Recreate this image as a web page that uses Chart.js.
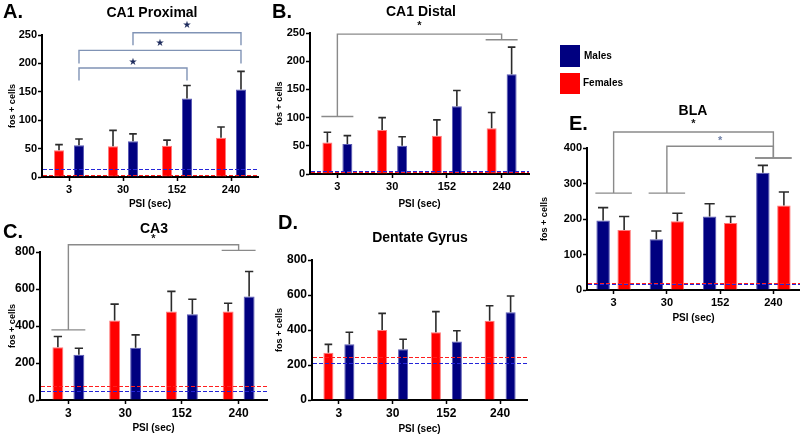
<!DOCTYPE html>
<html><head><meta charset="utf-8">
<script src="https://cdn.jsdelivr.net/npm/chart.js@4/dist/chart.umd.min.js"></script>
<style>
html,body{margin:0;padding:0;background:#fff;overflow:hidden;width:800px;height:434px;position:relative;}
canvas{position:absolute;}
.t{position:absolute;font-family:'Liberation Sans',Arial,sans-serif;font-weight:bold;color:#000;white-space:nowrap;z-index:5;}
.c{transform:translateX(-50%);}
.sq{position:absolute;z-index:5;}
</style></head><body>
<canvas id="cA" width="268" height="215" style="left:0px;top:0px"></canvas>
<canvas id="cB" width="275" height="215" style="left:262px;top:0px"></canvas>
<canvas id="cC" width="272" height="219" style="left:0px;top:215px"></canvas>
<canvas id="cD" width="275" height="220" style="left:262px;top:215px"></canvas>
<canvas id="cE" width="262" height="235" style="left:538px;top:95px"></canvas>

<div class="t" style="left:3px;top:1px;font-size:20px;line-height:20px">A.</div>
<div class="t c" style="left:152px;top:5px;font-size:14px;line-height:14px">CA1 Proximal</div>
<div class="t" style="left:272px;top:1px;font-size:20px;line-height:20px">B.</div>
<div class="t c" style="left:421px;top:4px;font-size:14px;line-height:14px">CA1 Distal</div>
<div class="t" style="left:3px;top:221px;font-size:20px;line-height:20px">C.</div>
<div class="t c" style="left:154px;top:221px;font-size:14px;line-height:14px">CA3</div>
<div class="t" style="left:278px;top:212px;font-size:20px;line-height:20px">D.</div>
<div class="t c" style="left:420px;top:230px;font-size:14px;line-height:14px">Dentate Gyrus</div>
<div class="t" style="left:569px;top:113px;font-size:20px;line-height:20px">E.</div>
<div class="t c" style="left:693px;top:103px;font-size:14px;line-height:14px">BLA</div>

<div class="sq" style="left:560px;top:45px;width:20px;height:22px;background:#000080"></div>
<div class="t" style="left:584px;top:51px;font-size:10px;line-height:10px">Males</div>
<div class="sq" style="left:560px;top:73px;width:20px;height:21px;background:#FF0000"></div>
<div class="t" style="left:583px;top:78px;font-size:10px;line-height:10px">Females</div>

<script>
// ---------- DATA ----------
const categories = ['3', '30', '152', '240'];

// A. CA1 Proximal
const ca1ProxFemales    = [47, 54, 55, 69];
const ca1ProxFemalesErr = [10, 28, 10, 19];
const ca1ProxMales      = [56, 63, 138, 154];
const ca1ProxMalesErr   = [11, 13, 23, 32];
const ca1ProxControls   = [4, 14];            // [females, males]
const ca1ProxBrackets   = [                   // [groupA, seriesA, groupB, seriesB, yA, yB, yTop, yStar]
  [0, 1, 2, 1, 170, 170, 192, 202],
  [0, 1, 3, 1, 200, 200, 223, 236],
  [1, 1, 3, 1, 232, 232, 254, 267]
];

// B. CA1 Distal
const ca1DistFemales    = [56, 78, 68, 81];
const ca1DistFemalesErr = [18, 22, 28, 28];
const ca1DistMales      = [53, 50, 120, 177];
const ca1DistMalesErr   = [15, 16, 28, 48];
const ca1DistControls   = [3, 6];
const ca1DistBrackets   = [[0, -1, 3, -1, 102, 238, 248, 263]];

// C. CA3
const ca3Females    = [285, 430, 478, 478];
const ca3FemalesErr = [58, 88, 109, 45];
const ca3Males      = [244, 283, 464, 560];
const ca3MalesErr   = [36, 69, 81, 135];
const ca3Controls   = [74, 51];
const ca3Brackets   = [[0, -1, 3, -1, 379, 809, 839, 870]];

// D. Dentate Gyrus
const dgFemales    = [270, 400, 387, 453];
const dgFemalesErr = [48, 95, 118, 86];
const dgMales      = [318, 290, 335, 501];
const dgMalesErr   = [69, 57, 61, 93];
const dgControls   = [244, 213];
const dgBrackets   = [];

// E. BLA
const blaMales      = [196, 143, 207, 330];
const blaMalesErr   = [36, 23, 36, 21];
const blaFemales    = [169, 194, 189, 238];
const blaFemalesErr = [38, 22, 18, 38];
const blaControls   = [20, 16];
const blaBrackets   = [
  [0, -1, 3, -1, 273, 372, 445, 468],
  [1, -1, 3, -1, 273, 372, 405, 420]
];

// ---------- STYLE ----------
const FONT = "'Liberation Sans', Arial, sans-serif";
const RED = '#FF0000', NAVY = '#000080';
const RED_EDGE = '#ff7a7a', NAVY_EDGE = '#5a5ab4';
const RED_LINE = 'rgb(255,30,30)', BLUE_LINE = 'rgb(36,36,216)';

// ---------- PLUGINS (per chart, via closures) ----------
const errorBarPlugin = {
  id: 'errbars',
  afterDatasetsDraw(chart) {
    const ctx = chart.ctx, ys = chart.scales.y;
    chart.data.datasets.forEach((ds, di) => {
      const meta = chart.getDatasetMeta(di);
      meta.data.forEach((bar, i) => {
        const top = ys.getPixelForValue(ds.data[i] + ds.err[i]);
        const hw = bar.width * 0.38;
        ctx.save();
        ctx.strokeStyle = '#2b2b2b';
        ctx.lineWidth = 1.6;
        ctx.beginPath();
        ctx.moveTo(bar.x, bar.y);
        ctx.lineTo(bar.x, top);
        ctx.moveTo(bar.x - hw, top);
        ctx.lineTo(bar.x + hw, top);
        ctx.stroke();
        ctx.restore();
      });
    });
  }
};

function makeBaselinePlugin(values, colors) {
  return {
    id: 'baselines',
    afterDatasetsDraw(chart) {
      const ctx = chart.ctx, ys = chart.scales.y, a = chart.chartArea;
      values.forEach((v, k) => {
        const y = Math.round(ys.getPixelForValue(v)) + 0.5;
        ctx.save();
        ctx.strokeStyle = colors[k];
        ctx.lineWidth = 1;
        ctx.setLineDash([4, 2]);
        ctx.beginPath();
        ctx.moveTo(a.left + 1, y);
        ctx.lineTo(a.right, y);
        ctx.stroke();
        ctx.restore();
      });
    }
  };
}

function anchorX(chart, g, d) {
  if (d >= 0) return chart.getDatasetMeta(d).data[g].x;
  const b0 = chart.getDatasetMeta(0).data[g], b1 = chart.getDatasetMeta(1).data[g];
  return (b0.x + b1.x) / 2;
}
function groupSpan(chart, g) {
  const b0 = chart.getDatasetMeta(0).data[g], b1 = chart.getDatasetMeta(1).data[g];
  return [Math.min(b0.x, b1.x) - b0.width / 2 - 1, Math.max(b0.x, b1.x) + b1.width / 2 + 1];
}

function makeBracketPlugin(items, st) {
  return {
    id: 'brackets',
    afterDraw(chart) {
      const ctx = chart.ctx, ys = chart.scales.y;
      items.forEach((b, k) => {
        const [gA, dA, gB, dB, yA, yB, yTop, yStar] = b;
        const xa = anchorX(chart, gA, dA), xb = anchorX(chart, gB, dB);
        const pa = ys.getPixelForValue(yA), pb = ys.getPixelForValue(yB), pt = ys.getPixelForValue(yTop);
        ctx.save();
        ctx.strokeStyle = st.color;
        ctx.lineWidth = 1.4;
        ctx.beginPath();
        ctx.moveTo(xa, pa); ctx.lineTo(xa, pt); ctx.lineTo(xb, pt); ctx.lineTo(xb, pb);
        if (dA < 0) { const s = groupSpan(chart, gA); ctx.moveTo(s[0], pa); ctx.lineTo(s[1], pa); }
        if (dB < 0) { const s = groupSpan(chart, gB); ctx.moveTo(s[0], pb); ctx.lineTo(s[1], pb); }
        ctx.stroke();
        ctx.fillStyle = st.starColors[k] || '#000';
        ctx.font = st.starFont;
        ctx.textAlign = 'center';
        ctx.textBaseline = 'middle';
        ctx.fillText(st.star, (xa + xb) / 2, ys.getPixelForValue(yStar));
        ctx.restore();
      });
    }
  };
}

// ---------- BUILDER ----------
function buildPanel(id, o) {
  const tickFont = {family: FONT, size: o.tickSize, weight: 'bold'};
  return new Chart(document.getElementById(id), {
    type: 'bar',
    data: {
      labels: categories,
      datasets: o.series.map(s => ({
        label: s.label, data: s.data, err: s.err,
        backgroundColor: s.color, borderColor: s.edge, borderWidth: 1,
        categoryPercentage: o.cp, barPercentage: o.bp
      }))
    },
    options: {
      responsive: false, animation: false, devicePixelRatio: 1,
      layout: {padding: o.pad},
      plugins: {legend: {display: false}, tooltip: {enabled: false}, title: {display: false}},
      scales: {
        x: {
          type: 'category', offset: true,
          grid: {display: true, drawOnChartArea: false, drawTicks: true, tickLength: 4,
                 tickWidth: 1.5, tickColor: '#000', offset: false},
          border: {display: true, color: '#000', width: 2},
          ticks: {color: '#000', font: tickFont, padding: 2, maxRotation: 0, autoSkip: false},
          title: {display: true, text: 'PSI (sec)', color: '#000',
                  font: {family: FONT, size: 10, weight: 'bold'}, padding: {top: 0, bottom: 0}},
          afterFit(s) { s.height = o.xH; }
        },
        y: {
          min: 0, max: o.max,
          grid: {display: true, drawOnChartArea: false, drawTicks: true, tickLength: 4,
                 tickWidth: 1.5, tickColor: '#000'},
          border: {display: true, color: '#000', width: 2},
          ticks: {stepSize: o.step, color: '#000', font: tickFont, padding: 1},
          title: {display: true, text: 'fos + cells', color: '#000',
                  font: {family: FONT, size: 9, weight: 'bold'}, padding: {top: o.yTitlePad, bottom: 0}},
          afterFit(s) { s.width = o.yW; }
        }
      }
    },
    plugins: [errorBarPlugin,
              makeBaselinePlugin(o.controls, [RED_LINE, BLUE_LINE]),
              makeBracketPlugin(o.brackets, o.bracketStyle)]
  });
}

const grayBracket = {color: '#8a8a8a', star: '*', starFont: "bold 11px 'Liberation Sans', sans-serif", starColors: ['#111', '#7080a8']};

buildPanel('cA', {
  series: [
    {label: 'Females', data: ca1ProxFemales, err: ca1ProxFemalesErr, color: RED, edge: RED_EDGE},
    {label: 'Males', data: ca1ProxMales, err: ca1ProxMalesErr, color: NAVY, edge: NAVY_EDGE}
  ],
  controls: ca1ProxControls, brackets: ca1ProxBrackets,
  bracketStyle: {color: '#8093b5', star: '\u2605', starFont: "10px 'DejaVu Sans', sans-serif",
                 starColors: ['#1d2b5c', '#1d2b5c', '#1d2b5c']},
  max: 250, step: 50, tickSize: 11, cp: 0.74, bp: 0.5,
  pad: {left: 0, top: 35, right: 10, bottom: 5}, xH: 33, yW: 42, yTitlePad: 7.6
});

buildPanel('cB', {
  series: [
    {label: 'Females', data: ca1DistFemales, err: ca1DistFemalesErr, color: RED, edge: RED_EDGE},
    {label: 'Males', data: ca1DistMales, err: ca1DistMalesErr, color: NAVY, edge: NAVY_EDGE}
  ],
  controls: ca1DistControls, brackets: ca1DistBrackets, bracketStyle: grayBracket,
  max: 250, step: 50, tickSize: 11, cp: 0.73, bp: 0.5,
  pad: {left: 0, top: 33, right: 8, bottom: 5}, xH: 36, yW: 48, yTitlePad: 12.6
});

buildPanel('cC', {
  series: [
    {label: 'Females', data: ca3Females, err: ca3FemalesErr, color: RED, edge: RED_EDGE},
    {label: 'Males', data: ca3Males, err: ca3MalesErr, color: NAVY, edge: NAVY_EDGE}
  ],
  controls: ca3Controls, brackets: ca3Brackets, bracketStyle: grayBracket,
  max: 800, step: 200, tickSize: 12, cp: 0.74, bp: 0.52,
  pad: {left: 0, top: 37, right: 5, bottom: 0}, xH: 34, yW: 40, yTitlePad: 7.6
});

buildPanel('cD', {
  series: [
    {label: 'Females', data: dgFemales, err: dgFemalesErr, color: RED, edge: RED_EDGE},
    {label: 'Males', data: dgMales, err: dgMalesErr, color: NAVY, edge: NAVY_EDGE}
  ],
  controls: dgControls, brackets: dgBrackets, bracketStyle: grayBracket,
  max: 800, step: 200, tickSize: 12, cp: 0.78, bp: 0.48,
  pad: {left: 0, top: 45, right: 10, bottom: 0}, xH: 35, yW: 50, yTitlePad: 12.6
});

buildPanel('cE', {
  series: [
    {label: 'Males', data: blaMales, err: blaMalesErr, color: NAVY, edge: NAVY_EDGE},
    {label: 'Females', data: blaFemales, err: blaFemalesErr, color: RED, edge: RED_EDGE}
  ],
  controls: blaControls, brackets: blaBrackets, bracketStyle: grayBracket,
  max: 400, step: 100, tickSize: 11, cp: 0.79, bp: 0.64,
  pad: {left: 0, top: 53, right: 0, bottom: 6}, xH: 34, yW: 49, yTitlePad: 1.6
});
</script>
</body></html>
